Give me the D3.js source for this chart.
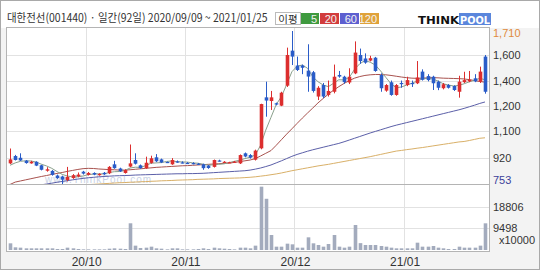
<!DOCTYPE html>
<html><head><meta charset="utf-8">
<script src="https://cdn.jsdelivr.net/npm/d3@7/dist/d3.min.js"></script>
<style>body{margin:0;background:#fff}svg{display:block}</style></head>
<body><svg id="c" width="540" height="270"></svg>
<script>
const dates = ["09/09","09/10","09/11","09/14","09/15","09/16","09/17","09/18","09/21","09/22","09/23","09/24","09/25","09/28","09/29",
"10/05","10/06","10/07","10/08","10/12","10/13","10/14","10/15","10/16","10/19","10/20","10/21","10/22","10/23","10/26","10/27","10/28","10/29","10/30",
"11/02","11/03","11/04","11/05","11/06","11/09","11/10","11/11","11/12","11/13","11/16","11/17","11/18","11/19","11/20","11/23","11/24","11/25","11/26","11/27","11/30",
"12/01","12/02","12/03","12/04","12/07","12/08","12/09","12/10","12/11","12/14","12/15","12/16","12/17","12/18","12/21","12/22","12/23","12/24","12/28","12/29","12/30",
"01/04","01/05","01/06","01/07","01/08","01/11","01/12","01/13","01/14","01/15","01/18","01/19","01/20","01/21","01/22","01/25"];
const open  = [882,928,917,899,882,892,870,836,835,806,800,778,790,800,830,810,822,808,823,820,876,850,822,862,903,870,852,885,920,907,891,876,894,888,885,884,880,876,868,860,900,888,886,890,882,945,934,905,976,1295,1272,1258,1243,1368,1587,1494,1494,1462,1452,1300,1372,1310,1330,1435,1424,1388,1445,1560,1538,1525,1543,1435,1337,1389,1310,1385,1372,1385,1383,1456,1428,1424,1393,1352,1372,1366,1330,1390,1395,1414,1393,1550];
const high  = [975,935,945,903,898,895,873,858,840,812,805,860,815,825,835,828,826,820,828,865,898,855,845,1000,945,875,924,930,940,912,893,915,900,895,890,889,884,880,872,906,905,896,892,897,938,950,940,968,1255,1393,1335,1262,1330,1606,1710,1550,1500,1627,1460,1365,1385,1400,1500,1460,1430,1477,1645,1600,1570,1555,1548,1445,1378,1400,1378,1400,1424,1400,1522,1470,1440,1430,1400,1385,1378,1370,1430,1455,1460,1440,1487,1560];
const low   = [878,900,897,880,880,865,838,830,805,785,753,770,785,795,812,806,808,805,810,815,848,828,818,858,875,848,848,880,890,884,884,873,886,882,878,876,872,842,848,856,894,885,884,886,878,920,912,900,970,1174,1216,1245,1240,1360,1497,1460,1440,1330,1325,1278,1290,1300,1320,1418,1380,1378,1440,1505,1505,1520,1455,1330,1330,1305,1305,1355,1365,1360,1378,1400,1395,1341,1340,1345,1350,1335,1293,1385,1390,1390,1385,1318];
const close = [907,903,900,884,892,868,842,845,810,790,780,798,808,812,818,822,812,816,814,860,852,832,840,882,880,852,886,914,895,888,887,903,891,886,882,880,876,852,853,903,896,892,889,893,934,925,918,962,1253,1275,1295,1250,1324,1560,1550,1466,1480,1425,1335,1355,1300,1335,1424,1425,1390,1424,1575,1522,1512,1540,1460,1352,1372,1310,1372,1380,1403,1378,1419,1405,1403,1383,1355,1377,1355,1341,1393,1403,1405,1395,1456,1330];
const ma5   = [870,885,895,898,897,890,877,866,851,831,813,803,797,798,803,812,815,817,816,825,830,831,838,853,858,857,868,883,885,887,894,897,893,891,890,885,883,877,871,873,876,879,887,895,902,912,920,935,995,1090,1170,1250,1300,1375,1455,1490,1497,1477,1424,1393,1372,1362,1383,1405,1404,1420,1470,1505,1525,1515,1497,1460,1420,1380,1355,1360,1372,1383,1397,1410,1414,1410,1397,1380,1372,1366,1370,1380,1392,1402,1414,1405];
const ma20  = [750,765,772,779,786,793,800,806,813,819,825,832,838,844,849,851,850,847,845,843,842,840,840,842,845,848,851,854,857,859,861,863,865,867,868,870,872,874,876,878,880,882,884,888,893,898,903,912,928,945,962,995,1030,1065,1098,1132,1165,1197,1228,1260,1288,1315,1340,1362,1382,1400,1415,1425,1432,1436,1438,1438,1436,1432,1427,1422,1418,1415,1414,1415,1417,1418,1417,1415,1414,1413,1412,1410,1406,1400,1394,1390];
const ma60  = [720,725,730,735,740,744,748,753,758,764,769,774,779,784,788,792,795,798,800,802,804,805,806,807,809,810,811,812,813,814,815,816,817,817,818,818,819,820,822,824,826,828,830,832,834,836,840,846,853,862,872,885,898,912,926,938,948,958,967,975,983,991,999,1007,1017,1028,1039,1050,1061,1072,1082,1092,1102,1112,1121,1129,1137,1145,1153,1161,1169,1177,1185,1193,1201,1209,1217,1226,1236,1246,1257,1266];
const ma120 = [730,731,732,733,734,735,736,737,738,739,740,741,743,745,747,749,751,753,755,757,759,761,762,764,765,767,768,770,771,773,774,775,777,778,779,780,782,783,784,785,787,788,789,790,791,793,795,798,802,806,811,816,822,829,836,842,848,854,860,866,871,876,882,888,894,900,906,912,918,924,931,938,945,952,959,963,968,972,977,981,986,991,996,1001,1006,1011,1016,1019,1025,1032,1039,1042];
const volume = [2920,1170,1020,730,730,730,730,730,730,440,440,1020,730,440,290,290,290,290,290,580,730,580,440,11680,1900,880,1020,1460,730,580,290,730,730,290,290,290,440,730,440,1020,730,580,440,290,1020,1020,730,1900,27700,22400,6560,1460,1460,2770,2480,1020,1020,5540,2920,2190,1460,2620,6560,1460,1020,1460,10930,3000,2190,2190,2190,1750,1460,1020,730,730,730,730,3200,1460,1460,1750,1020,730,440,440,1460,1020,1020,1020,1900,11670];
const priceMin = 753, priceMax = 1710;
const priceGrid = [918,1084,1241,1399,1560];
const priceGridLabels = ["920","1,100","1,200","1,400","1,600"];
const volGrid = [9498,18806];
const volGridLabels = ["9498","18806"];
const monthTicks = ["10/05","11/02","12/01","01/04"];
const monthLabels = ["20/10","20/11","20/12","21/01"];
const legendItems = ["5","20","60","120"];
const legendColors = ["#3f9a3f","#d23c3c","#5d5fd0","#e0a23a"];

const svg = d3.select("#c");
const L = 7, R = 489, PT = 28, PB = 184, VT = 185, VB = 251;
const x = d3.scaleBand().domain(dates).range([7.4, 487.6]).padding(0);
const y = d3.scaleLinear().domain([priceMin, priceMax]).range([184, 31]);
const yv = d3.scaleLinear().domain([0, 18806]).range([250, 207]);
const cx = i => x(dates[i]) + x.bandwidth() / 2;

// backgrounds
svg.append("rect").attr("x",0).attr("y",0).attr("width",540).attr("height",270).attr("fill","#f3f3f3");
svg.append("rect").attr("x",1).attr("y",1).attr("width",538).attr("height",27).attr("fill","#ffffff");
svg.append("rect").attr("x",L).attr("y",PT).attr("width",R-L).attr("height",VB-PT).attr("fill","#ffffff");
svg.append("rect").attr("x",0.5).attr("y",0.5).attr("width",539).attr("height",269).attr("fill","none").attr("stroke","#a9a9a9");

const defs = svg.append("defs");
defs.append("clipPath").attr("id","pc").append("rect").attr("x",L).attr("y",PT).attr("width",R-L).attr("height",PB-PT);
defs.append("clipPath").attr("id","vc").append("rect").attr("x",L).attr("y",VT).attr("width",R-L).attr("height",VB-VT);

// grid
const g = svg.append("g");
g.selectAll(".hp").data(priceGrid).join("line").attr("x1",L).attr("x2",R)
  .attr("y1",d=>Math.round(y(d))+0.5).attr("y2",d=>Math.round(y(d))+0.5).attr("stroke","#e2e2e2");
g.selectAll(".hv").data(volGrid).join("line").attr("x1",L).attr("x2",R)
  .attr("y1",d=>Math.round(yv(d))+0.5).attr("y2",d=>Math.round(yv(d))+0.5).attr("stroke","#e2e2e2");
g.selectAll(".vx").data(monthTicks).join("line")
  .attr("x1",d=>Math.round(x(d))+0.5).attr("x2",d=>Math.round(x(d))+0.5).attr("y1",PT).attr("y2",VB).attr("stroke","#e2e2e2");

// watermark
svg.append("text").attr("x",45).attr("y",183).attr("font-family","Liberation Sans, sans-serif").attr("font-size",10)
  .attr("fill","#c9d2e4").attr("letter-spacing",1).text("www.ThinkPool.com");

// MA lines
const pg = svg.append("g").attr("clip-path","url(#pc)");
const line = arr => d3.line().x((d,i)=>cx(i)).y(d=>y(d))(arr);
pg.append("path").attr("d",line(ma120)).attr("fill","none").attr("stroke","#d9b068").attr("stroke-width",1);
pg.append("path").attr("d",line(ma60)).attr("fill","none").attr("stroke","#5b5fa8").attr("stroke-width",1);
pg.append("path").attr("d",line(ma20)).attr("fill","none").attr("stroke","#a8524e").attr("stroke-width",1);
pg.append("path").attr("d",line(ma5)).attr("fill","none").attr("stroke","#8aa08c").attr("stroke-width",1);

// candles
const up = "#dc2e2e", dn = "#2a5cc8";
const idx = d3.range(dates.length);
const bw = 3.6;
pg.selectAll(".wick").data(idx).join("line")
  .attr("x1",i=>Math.round(cx(i))+0.5).attr("x2",i=>Math.round(cx(i))+0.5)
  .attr("y1",i=>y(high[i])).attr("y2",i=>y(low[i]))
  .attr("stroke",i=>close[i]>=open[i]?up:dn).attr("stroke-width",1);
pg.selectAll(".body").data(idx).join("rect")
  .attr("x",i=>Math.round(cx(i))+0.5-bw/2).attr("width",bw)
  .attr("y",i=>y(Math.max(open[i],close[i])))
  .attr("height",i=>Math.max(1.2, Math.abs(y(open[i])-y(close[i]))))
  .attr("fill",i=>close[i]>=open[i]?up:dn);

// volume
const vg = svg.append("g").attr("clip-path","url(#vc)");
vg.selectAll(".vb").data(idx).join("rect")
  .attr("x",i=>Math.round(cx(i))+0.5-bw/2).attr("width",bw)
  .attr("y",i=>yv(volume[i])).attr("height",i=>yv(0)-yv(volume[i]))
  .attr("fill","#a3abbd");

// frame
const fr = svg.append("g").attr("stroke","#b4b4b4").attr("fill","none");
fr.append("rect").attr("x",L-0.5).attr("y",PT-0.5).attr("width",R-L+1).attr("height",VB-PT+1);
fr.append("line").attr("x1",L).attr("x2",R).attr("y1",PB+0.5).attr("y2",PB+0.5);

// right axis labels
const ax = svg.append("g").attr("font-family","Liberation Sans, Arial, sans-serif").attr("font-size",11).attr("fill","#333");
ax.selectAll(".pl").data(priceGrid).join("text").attr("x",493).attr("y",d=>y(d)+4).text((d,i)=>priceGridLabels[i]);
ax.append("text").attr("x",493).attr("y",Math.max(y(priceMax),33)+4).attr("fill","#e08a3c").text(d3.format(",")(priceMax));
ax.append("text").attr("x",493).attr("y",Math.min(y(priceMin),180)+4).attr("fill","#3b3f9a").text(priceMin);
ax.selectAll(".vl").data(volGrid).join("text").attr("x",493).attr("y",d=>yv(d)+4).text((d,i)=>volGridLabels[i]);
ax.append("text").attr("x",499).attr("y",244).text("x10000");

// x labels
svg.append("g").attr("font-family","Liberation Sans, Arial, sans-serif").attr("font-size",12).attr("fill","#333")
  .selectAll("text").data(monthTicks).join("text").attr("text-anchor","middle")
  .attr("x",d=>x(d)+1).attr("y",266).text((d,i)=>monthLabels[i]);

// title (condensed horizontally to fit the reference width)
const title = svg.append("text").attr("x",0).attr("y",0).attr("font-family","Noto Sans CJK KR, sans-serif").attr("font-size",11.5)
  .attr("fill","#333").text("대한전선(001440) · 일간(92일) 2020/09/09 ~ 2021/01/25");
const tl = title.node().getComputedTextLength();
title.attr("transform",`translate(7,22) scale(${261/tl},1)`);

// legend
const lg = svg.append("g").attr("font-family","Liberation Sans, Arial, sans-serif").attr("font-size",11);
lg.append("rect").attr("x",275.5).attr("y",12.5).attr("width",25).attr("height",12).attr("fill","#fff").attr("stroke","#bbb");
lg.append("text").attr("x",288).attr("y",22.5).attr("text-anchor","middle").attr("fill","#333")
  .attr("font-family","Noto Sans CJK KR, sans-serif").attr("font-size",10.5).text("이평");
const lw = [18,19,19,19];
let lx = 301;
legendItems.forEach((t,i)=>{
  lg.append("rect").attr("x",lx).attr("y",13).attr("width",lw[i]).attr("height",11).attr("fill",legendColors[i]);
  lg.append("text").attr("x",lx+lw[i]-2).attr("y",22.5).attr("text-anchor","end").attr("fill","#f4f4f4").text(t);
  lx += lw[i]+1;
});

// logo
const lo = svg.append("g");
lo.append("rect").attr("x",459).attr("y",13).attr("width",32).attr("height",12).attr("fill","#5a86dc");
lo.append("text").attr("x",418).attr("y",24).attr("font-family","DejaVu Sans, sans-serif").attr("font-weight","bold")
  .attr("font-size",11).attr("fill","#111").attr("textLength",41).attr("lengthAdjust","spacingAndGlyphs").text("THINK");
lo.append("text").attr("x",460).attr("y",24).attr("font-family","DejaVu Sans, sans-serif").attr("font-weight","bold")
  .attr("font-size",11).attr("fill","#fff").attr("textLength",30).attr("lengthAdjust","spacingAndGlyphs").text("POOL");
</script></body></html>
